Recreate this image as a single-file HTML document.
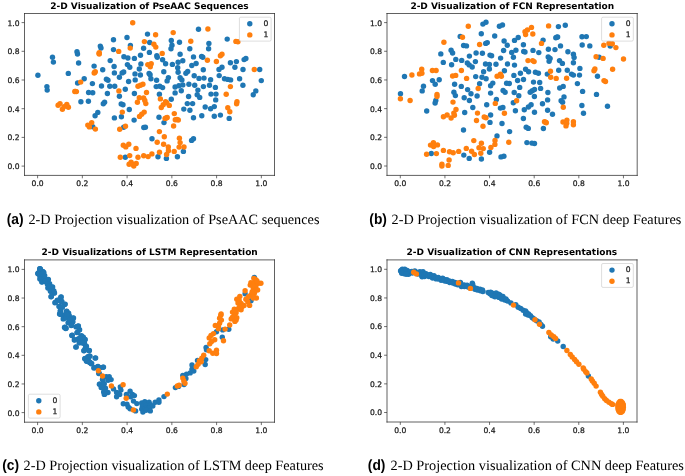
<!DOCTYPE html>
<html lang="en">
<head>
<meta charset="utf-8">
<title>2-D Projection visualizations</title>
<style>
html,body{margin:0;padding:0;background:#fff;}
body{width:685px;height:476px;overflow:hidden;position:relative;}
svg{display:block;position:absolute;left:0;top:0;text-rendering:geometricPrecision;}
.tk{font-family:"DejaVu Sans","Liberation Sans",sans-serif;font-size:7.6px;fill:#1a1a1a;stroke:#1a1a1a;stroke-width:0.25px;}
.tt{font-family:"DejaVu Sans","Liberation Sans",sans-serif;font-size:9.0px;font-weight:bold;fill:#000;}
.cl{font-family:"Liberation Sans",sans-serif;font-weight:bold;font-size:15px;fill:#000;}
.ct{font-family:"Liberation Serif",serif;font-size:14.2px;fill:#000;}
.sp{stroke:#333;stroke-width:0.78;fill:none;stroke-linecap:square;}
.tm{stroke:#333;stroke-width:0.7;}
.b{fill:#1f77b4;}
.o{fill:#ff7f0e;}
</style>
</head>
<body>
<svg width="685" height="476" viewBox="0 0 685 476">
<rect x="0" y="0" width="685" height="476" fill="#fff"/>
<g id="plot-a">
<g id="points-a"><circle class="b" cx="52.5" cy="57.3" r="2.7"/><circle class="b" cx="53.4" cy="62.1" r="2.7"/><circle class="b" cx="77.0" cy="51.8" r="2.7"/><circle class="b" cx="77.5" cy="54.0" r="2.7"/><circle class="b" cx="78.6" cy="63.0" r="2.7"/><circle class="b" cx="100.3" cy="46.1" r="2.7"/><circle class="b" cx="101.0" cy="48.0" r="2.7"/><circle class="b" cx="94.1" cy="66.1" r="2.7"/><circle class="b" cx="147.5" cy="34.1" r="2.7"/><circle class="b" cx="113.5" cy="39.8" r="2.7"/><circle class="b" cx="127.0" cy="37.5" r="2.7"/><circle class="b" cx="149.7" cy="42.5" r="2.7"/><circle class="b" cx="171.3" cy="40.4" r="2.7"/><circle class="b" cx="179.5" cy="42.3" r="2.7"/><circle class="b" cx="130.4" cy="45.5" r="2.7"/><circle class="b" cx="113.5" cy="49.6" r="2.7"/><circle class="b" cx="143.6" cy="48.3" r="2.7"/><circle class="b" cx="149.4" cy="52.4" r="2.7"/><circle class="b" cx="172.0" cy="45.3" r="2.7"/><circle class="b" cx="171.0" cy="48.7" r="2.7"/><circle class="b" cx="189.8" cy="48.7" r="2.7"/><circle class="b" cx="140.5" cy="55.3" r="2.7"/><circle class="b" cx="156.8" cy="55.7" r="2.7"/><circle class="b" cx="157.3" cy="57.2" r="2.7"/><circle class="b" cx="180.1" cy="54.3" r="2.7"/><circle class="b" cx="123.9" cy="56.8" r="2.7"/><circle class="b" cx="127.9" cy="58.0" r="2.7"/><circle class="b" cx="134.4" cy="58.4" r="2.7"/><circle class="b" cx="162.6" cy="59.7" r="2.7"/><circle class="b" cx="110.2" cy="60.6" r="2.7"/><circle class="b" cx="182.8" cy="60.8" r="2.7"/><circle class="b" cx="178.1" cy="62.2" r="2.7"/><circle class="b" cx="165.6" cy="63.8" r="2.7"/><circle class="b" cx="172.4" cy="64.4" r="2.7"/><circle class="b" cx="140.9" cy="63.9" r="2.7"/><circle class="b" cx="127.4" cy="64.6" r="2.7"/><circle class="b" cx="114.1" cy="66.5" r="2.7"/><circle class="b" cx="129.8" cy="67.3" r="2.7"/><circle class="b" cx="177.7" cy="67.7" r="2.7"/><circle class="b" cx="191.8" cy="65.5" r="2.7"/><circle class="b" cx="198.5" cy="29.2" r="2.7"/><circle class="b" cx="227.2" cy="39.1" r="2.7"/><circle class="b" cx="208.9" cy="43.4" r="2.7"/><circle class="b" cx="208.6" cy="48.8" r="2.7"/><circle class="b" cx="193.5" cy="56.9" r="2.7"/><circle class="b" cx="201.6" cy="56.4" r="2.7"/><circle class="b" cx="202.8" cy="57.3" r="2.7"/><circle class="b" cx="230.4" cy="62.7" r="2.7"/><circle class="b" cx="236.4" cy="61.6" r="2.7"/><circle class="b" cx="245.9" cy="58.5" r="2.7"/><circle class="b" cx="244.1" cy="59.6" r="2.7"/><circle class="b" cx="196.1" cy="63.5" r="2.7"/><circle class="b" cx="222.0" cy="67.3" r="2.7"/><circle class="b" cx="234.9" cy="67.3" r="2.7"/><circle class="b" cx="37.9" cy="75.2" r="2.7"/><circle class="b" cx="68.3" cy="73.4" r="2.7"/><circle class="b" cx="102.7" cy="69.8" r="2.7"/><circle class="b" cx="84.2" cy="78.8" r="2.7"/><circle class="b" cx="77.6" cy="83.0" r="2.7"/><circle class="b" cx="92.4" cy="83.6" r="2.7"/><circle class="b" cx="106.4" cy="79.3" r="2.7"/><circle class="b" cx="101.5" cy="86.0" r="2.7"/><circle class="b" cx="46.9" cy="86.6" r="2.7"/><circle class="b" cx="47.2" cy="90.1" r="2.7"/><circle class="b" cx="88.6" cy="92.5" r="2.7"/><circle class="b" cx="92.7" cy="92.8" r="2.7"/><circle class="b" cx="107.4" cy="93.5" r="2.7"/><circle class="b" cx="80.9" cy="101.7" r="2.7"/><circle class="b" cx="88.4" cy="101.3" r="2.7"/><circle class="b" cx="104.6" cy="102.3" r="2.7"/><circle class="b" cx="103.3" cy="103.8" r="2.7"/><circle class="b" cx="97.8" cy="112.4" r="2.7"/><circle class="b" cx="95.1" cy="115.8" r="2.7"/><circle class="b" cx="114.4" cy="72.9" r="2.7"/><circle class="b" cx="122.1" cy="72.9" r="2.7"/><circle class="b" cx="123.7" cy="72.0" r="2.7"/><circle class="b" cx="139.3" cy="69.0" r="2.7"/><circle class="b" cx="135.0" cy="73.9" r="2.7"/><circle class="b" cx="140.4" cy="75.0" r="2.7"/><circle class="b" cx="149.1" cy="73.5" r="2.7"/><circle class="b" cx="150.1" cy="74.7" r="2.7"/><circle class="b" cx="163.8" cy="71.7" r="2.7"/><circle class="b" cx="178.1" cy="72.3" r="2.7"/><circle class="b" cx="187.7" cy="71.4" r="2.7"/><circle class="b" cx="185.9" cy="73.3" r="2.7"/><circle class="b" cx="119.4" cy="77.3" r="2.7"/><circle class="b" cx="108.0" cy="80.3" r="2.7"/><circle class="b" cx="128.6" cy="81.5" r="2.7"/><circle class="b" cx="135.2" cy="79.9" r="2.7"/><circle class="b" cx="150.9" cy="78.7" r="2.7"/><circle class="b" cx="156.6" cy="80.3" r="2.7"/><circle class="b" cx="168.4" cy="77.6" r="2.7"/><circle class="b" cx="167.1" cy="80.9" r="2.7"/><circle class="b" cx="180.1" cy="77.8" r="2.7"/><circle class="b" cx="181.9" cy="79.9" r="2.7"/><circle class="b" cx="188.9" cy="84.2" r="2.7"/><circle class="b" cx="182.8" cy="84.9" r="2.7"/><circle class="b" cx="178.9" cy="85.8" r="2.7"/><circle class="b" cx="175.1" cy="87.0" r="2.7"/><circle class="b" cx="156.2" cy="86.6" r="2.7"/><circle class="b" cx="159.8" cy="86.2" r="2.7"/><circle class="b" cx="162.6" cy="87.6" r="2.7"/><circle class="b" cx="109.8" cy="86.2" r="2.7"/><circle class="b" cx="114.7" cy="86.2" r="2.7"/><circle class="b" cx="125.3" cy="89.3" r="2.7"/><circle class="b" cx="181.3" cy="90.7" r="2.7"/><circle class="b" cx="175.1" cy="92.9" r="2.7"/><circle class="b" cx="134.4" cy="93.5" r="2.7"/><circle class="b" cx="159.4" cy="94.2" r="2.7"/><circle class="b" cx="119.4" cy="96.3" r="2.7"/><circle class="b" cx="188.6" cy="96.5" r="2.7"/><circle class="b" cx="171.3" cy="99.2" r="2.7"/><circle class="b" cx="121.2" cy="103.9" r="2.7"/><circle class="b" cx="123.0" cy="104.8" r="2.7"/><circle class="b" cx="187.3" cy="103.6" r="2.7"/><circle class="b" cx="129.3" cy="109.5" r="2.7"/><circle class="b" cx="183.8" cy="109.1" r="2.7"/><circle class="b" cx="189.9" cy="110.3" r="2.7"/><circle class="b" cx="121.4" cy="116.7" r="2.7"/><circle class="b" cx="114.4" cy="117.9" r="2.7"/><circle class="b" cx="159.0" cy="117.3" r="2.7"/><circle class="b" cx="134.1" cy="120.1" r="2.7"/><circle class="b" cx="203.3" cy="69.8" r="2.7"/><circle class="b" cx="219.0" cy="69.5" r="2.7"/><circle class="b" cx="243.0" cy="69.5" r="2.7"/><circle class="b" cx="259.7" cy="69.5" r="2.7"/><circle class="b" cx="194.2" cy="75.7" r="2.7"/><circle class="b" cx="199.0" cy="78.4" r="2.7"/><circle class="b" cx="204.0" cy="78.1" r="2.7"/><circle class="b" cx="210.6" cy="79.7" r="2.7"/><circle class="b" cx="219.2" cy="75.6" r="2.7"/><circle class="b" cx="224.5" cy="78.8" r="2.7"/><circle class="b" cx="227.8" cy="79.4" r="2.7"/><circle class="b" cx="230.6" cy="79.9" r="2.7"/><circle class="b" cx="239.6" cy="78.7" r="2.7"/><circle class="b" cx="261.3" cy="80.6" r="2.7"/><circle class="b" cx="194.7" cy="85.2" r="2.7"/><circle class="b" cx="203.4" cy="86.6" r="2.7"/><circle class="b" cx="209.5" cy="85.2" r="2.7"/><circle class="b" cx="215.4" cy="87.4" r="2.7"/><circle class="b" cx="242.9" cy="85.2" r="2.7"/><circle class="b" cx="197.9" cy="90.1" r="2.7"/><circle class="b" cx="197.2" cy="94.7" r="2.7"/><circle class="b" cx="199.7" cy="97.4" r="2.7"/><circle class="b" cx="211.0" cy="94.1" r="2.7"/><circle class="b" cx="216.0" cy="94.1" r="2.7"/><circle class="b" cx="255.8" cy="90.9" r="2.7"/><circle class="b" cx="253.3" cy="94.7" r="2.7"/><circle class="b" cx="215.7" cy="99.9" r="2.7"/><circle class="b" cx="192.6" cy="103.6" r="2.7"/><circle class="b" cx="205.2" cy="107.0" r="2.7"/><circle class="b" cx="214.3" cy="106.6" r="2.7"/><circle class="b" cx="210.6" cy="108.7" r="2.7"/><circle class="b" cx="201.8" cy="115.8" r="2.7"/><circle class="b" cx="214.3" cy="116.2" r="2.7"/><circle class="b" cx="220.4" cy="115.1" r="2.7"/><circle class="b" cx="229.2" cy="118.4" r="2.7"/><circle class="b" cx="193.5" cy="117.7" r="2.7"/><circle class="b" cx="92.7" cy="126.7" r="2.7"/><circle class="b" cx="164.0" cy="122.6" r="2.7"/><circle class="b" cx="123.7" cy="127.2" r="2.7"/><circle class="b" cx="143.8" cy="127.5" r="2.7"/><circle class="b" cx="145.4" cy="127.2" r="2.7"/><circle class="b" cx="152.0" cy="138.8" r="2.7"/><circle class="b" cx="183.4" cy="151.4" r="2.7"/><circle class="b" cx="125.3" cy="157.3" r="2.7"/><circle class="b" cx="158.0" cy="156.7" r="2.7"/><circle class="b" cx="166.4" cy="158.4" r="2.7"/><circle class="b" cx="177.4" cy="156.7" r="2.7"/><circle class="b" cx="193.5" cy="138.8" r="2.7"/><circle class="b" cx="191.6" cy="140.4" r="2.7"/><circle class="o" cx="99.2" cy="53.4" r="2.7"/><circle class="o" cx="132.7" cy="22.7" r="2.7"/><circle class="o" cx="155.6" cy="34.7" r="2.7"/><circle class="o" cx="173.2" cy="32.6" r="2.7"/><circle class="o" cx="144.4" cy="41.6" r="2.7"/><circle class="o" cx="153.9" cy="44.2" r="2.7"/><circle class="o" cx="155.8" cy="47.1" r="2.7"/><circle class="o" cx="190.8" cy="41.2" r="2.7"/><circle class="o" cx="130.2" cy="48.1" r="2.7"/><circle class="o" cx="118.7" cy="51.4" r="2.7"/><circle class="o" cx="162.2" cy="53.4" r="2.7"/><circle class="o" cx="147.8" cy="64.6" r="2.7"/><circle class="o" cx="151.2" cy="63.8" r="2.7"/><circle class="o" cx="150.3" cy="66.7" r="2.7"/><circle class="o" cx="207.9" cy="29.0" r="2.7"/><circle class="o" cx="235.9" cy="41.4" r="2.7"/><circle class="o" cx="237.9" cy="41.7" r="2.7"/><circle class="o" cx="222.0" cy="54.2" r="2.7"/><circle class="o" cx="220.4" cy="55.7" r="2.7"/><circle class="o" cx="207.4" cy="60.2" r="2.7"/><circle class="o" cx="216.4" cy="61.5" r="2.7"/><circle class="o" cx="94.6" cy="72.4" r="2.7"/><circle class="o" cx="80.7" cy="82.1" r="2.7"/><circle class="o" cx="75.6" cy="91.4" r="2.7"/><circle class="o" cx="60.0" cy="103.6" r="2.7"/><circle class="o" cx="58.1" cy="105.2" r="2.7"/><circle class="o" cx="66.8" cy="104.5" r="2.7"/><circle class="o" cx="64.1" cy="106.6" r="2.7"/><circle class="o" cx="68.4" cy="107.2" r="2.7"/><circle class="o" cx="62.4" cy="109.2" r="2.7"/><circle class="o" cx="142.9" cy="84.3" r="2.7"/><circle class="o" cx="140.5" cy="85.2" r="2.7"/><circle class="o" cx="138.0" cy="86.2" r="2.7"/><circle class="o" cx="118.9" cy="90.9" r="2.7"/><circle class="o" cx="146.5" cy="92.5" r="2.7"/><circle class="o" cx="139.3" cy="97.8" r="2.7"/><circle class="o" cx="143.6" cy="98.0" r="2.7"/><circle class="o" cx="144.8" cy="100.5" r="2.7"/><circle class="o" cx="137.4" cy="102.3" r="2.7"/><circle class="o" cx="145.8" cy="103.6" r="2.7"/><circle class="o" cx="160.4" cy="98.9" r="2.7"/><circle class="o" cx="165.6" cy="101.7" r="2.7"/><circle class="o" cx="163.2" cy="104.8" r="2.7"/><circle class="o" cx="161.3" cy="107.5" r="2.7"/><circle class="o" cx="169.3" cy="105.4" r="2.7"/><circle class="o" cx="122.3" cy="112.1" r="2.7"/><circle class="o" cx="144.2" cy="112.1" r="2.7"/><circle class="o" cx="141.7" cy="114.3" r="2.7"/><circle class="o" cx="139.5" cy="116.4" r="2.7"/><circle class="o" cx="174.3" cy="113.6" r="2.7"/><circle class="o" cx="166.1" cy="118.0" r="2.7"/><circle class="o" cx="176.9" cy="119.5" r="2.7"/><circle class="o" cx="254.3" cy="69.5" r="2.7"/><circle class="o" cx="230.4" cy="86.6" r="2.7"/><circle class="o" cx="226.2" cy="94.2" r="2.7"/><circle class="o" cx="237.0" cy="101.7" r="2.7"/><circle class="o" cx="236.6" cy="103.8" r="2.7"/><circle class="o" cx="227.8" cy="107.8" r="2.7"/><circle class="o" cx="229.8" cy="111.8" r="2.7"/><circle class="o" cx="91.7" cy="122.6" r="2.7"/><circle class="o" cx="87.8" cy="125.1" r="2.7"/><circle class="o" cx="89.4" cy="126.9" r="2.7"/><circle class="o" cx="95.4" cy="129.1" r="2.7"/><circle class="o" cx="125.5" cy="126.2" r="2.7"/><circle class="o" cx="119.7" cy="129.2" r="2.7"/><circle class="o" cx="173.6" cy="126.0" r="2.7"/><circle class="o" cx="159.4" cy="131.6" r="2.7"/><circle class="o" cx="164.3" cy="136.8" r="2.7"/><circle class="o" cx="179.4" cy="138.2" r="2.7"/><circle class="o" cx="157.2" cy="142.2" r="2.7"/><circle class="o" cx="180.1" cy="142.6" r="2.7"/><circle class="o" cx="163.6" cy="144.3" r="2.7"/><circle class="o" cx="128.8" cy="144.3" r="2.7"/><circle class="o" cx="123.3" cy="145.3" r="2.7"/><circle class="o" cx="125.8" cy="146.9" r="2.7"/><circle class="o" cx="136.0" cy="148.4" r="2.7"/><circle class="o" cx="168.3" cy="146.9" r="2.7"/><circle class="o" cx="179.1" cy="147.1" r="2.7"/><circle class="o" cx="184.0" cy="147.0" r="2.7"/><circle class="o" cx="168.4" cy="150.8" r="2.7"/><circle class="o" cx="174.2" cy="151.4" r="2.7"/><circle class="o" cx="159.5" cy="152.2" r="2.7"/><circle class="o" cx="151.9" cy="153.9" r="2.7"/><circle class="o" cx="166.6" cy="154.5" r="2.7"/><circle class="o" cx="129.7" cy="155.6" r="2.7"/><circle class="o" cx="120.3" cy="157.3" r="2.7"/><circle class="o" cx="138.0" cy="157.3" r="2.7"/><circle class="o" cx="143.7" cy="155.7" r="2.7"/><circle class="o" cx="148.1" cy="156.6" r="2.7"/><circle class="o" cx="131.1" cy="162.2" r="2.7"/><circle class="o" cx="129.1" cy="164.3" r="2.7"/><circle class="o" cx="136.2" cy="163.4" r="2.7"/><circle class="o" cx="133.8" cy="166.1" r="2.7"/><circle class="o" cx="132.5" cy="164.3" r="2.7"/><circle class="o" cx="99.2" cy="52.7" r="2.7"/><circle class="o" cx="99.2" cy="54.1" r="2.7"/><circle class="o" cx="95.3" cy="71.8" r="2.7"/><circle class="o" cx="94.2" cy="73.0" r="2.7"/><circle class="o" cx="74.8" cy="91.5" r="2.7"/><circle class="o" cx="76.4" cy="91.6" r="2.7"/><circle class="o" cx="178.3" cy="120.0" r="2.7"/><circle class="o" cx="175.3" cy="119.7" r="2.7"/><circle class="o" cx="165.1" cy="118.4" r="2.7"/><circle class="o" cx="167.2" cy="117.5" r="2.7"/><circle class="o" cx="166.7" cy="102.7" r="2.7"/></g>
<path class="sp" d="M24.5 13.5H274.5"/><path class="sp" d="M24.5 175.4H274.5"/><path class="sp" d="M24.5 13.5V175.4"/><path class="sp" d="M274.5 13.5V175.4"/>
<line class="tm" x1="37.60" y1="175.4" x2="37.60" y2="178.3"/><text class="tk" x="37.60" y="186.4" text-anchor="middle">0.0</text><line class="tm" x1="21.6" y1="166.10" x2="24.5" y2="166.10"/><text class="tk" x="19.6" y="169.00" text-anchor="end">0.0</text>
<line class="tm" x1="82.35" y1="175.4" x2="82.35" y2="178.3"/><text class="tk" x="82.35" y="186.4" text-anchor="middle">0.2</text><line class="tm" x1="21.6" y1="137.40" x2="24.5" y2="137.40"/><text class="tk" x="19.6" y="140.30" text-anchor="end">0.2</text>
<line class="tm" x1="127.10" y1="175.4" x2="127.10" y2="178.3"/><text class="tk" x="127.10" y="186.4" text-anchor="middle">0.4</text><line class="tm" x1="21.6" y1="108.70" x2="24.5" y2="108.70"/><text class="tk" x="19.6" y="111.60" text-anchor="end">0.4</text>
<line class="tm" x1="171.85" y1="175.4" x2="171.85" y2="178.3"/><text class="tk" x="171.85" y="186.4" text-anchor="middle">0.6</text><line class="tm" x1="21.6" y1="80.00" x2="24.5" y2="80.00"/><text class="tk" x="19.6" y="82.90" text-anchor="end">0.6</text>
<line class="tm" x1="216.60" y1="175.4" x2="216.60" y2="178.3"/><text class="tk" x="216.60" y="186.4" text-anchor="middle">0.8</text><line class="tm" x1="21.6" y1="51.30" x2="24.5" y2="51.30"/><text class="tk" x="19.6" y="54.20" text-anchor="end">0.8</text>
<line class="tm" x1="261.35" y1="175.4" x2="261.35" y2="178.3"/><text class="tk" x="261.35" y="186.4" text-anchor="middle">1.0</text><line class="tm" x1="21.6" y1="22.60" x2="24.5" y2="22.60"/><text class="tk" x="19.6" y="25.50" text-anchor="end">1.0</text>
<text class="tt" x="149.5" y="8.7" text-anchor="middle">2-D Visualization of PseAAC Sequences</text>
<rect x="239.4" y="17.2" width="31.7" height="23.9" rx="1.4" ry="1.4" fill="#fff" fill-opacity="0.8" stroke="#ccc" stroke-opacity="0.9" stroke-width="0.75"/><circle class="b" cx="249.8" cy="23.8" r="2.7"/><text class="tk" x="263.5" y="25.8">0</text><circle class="o" cx="249.8" cy="34.9" r="2.7"/><text class="tk" x="263.5" y="37.0">1</text>
<text class="cl" transform="translate(6.7,223.8) scale(0.92,1)">(a)</text><text class="ct" transform="translate(28.4,223.8) scale(1.005,1)">2-D Projection visualization of PseAAC sequences</text>
</g>
<g id="plot-b">
<g id="points-b"><circle class="b" cx="460.2" cy="36.4" r="2.7"/><circle class="b" cx="463.6" cy="45.5" r="2.7"/><circle class="b" cx="466.5" cy="45.9" r="2.7"/><circle class="b" cx="451.1" cy="50.2" r="2.7"/><circle class="b" cx="452.6" cy="53.0" r="2.7"/><circle class="b" cx="440.8" cy="53.9" r="2.7"/><circle class="b" cx="469.4" cy="56.1" r="2.7"/><circle class="b" cx="455.8" cy="59.4" r="2.7"/><circle class="b" cx="461.7" cy="60.4" r="2.7"/><circle class="b" cx="443.3" cy="62.4" r="2.7"/><circle class="b" cx="451.6" cy="64.8" r="2.7"/><circle class="b" cx="467.3" cy="63.0" r="2.7"/><circle class="b" cx="469.2" cy="64.9" r="2.7"/><circle class="b" cx="486.0" cy="22.3" r="2.7"/><circle class="b" cx="482.9" cy="24.1" r="2.7"/><circle class="b" cx="502.5" cy="25.0" r="2.7"/><circle class="b" cx="499.4" cy="26.3" r="2.7"/><circle class="b" cx="481.3" cy="33.7" r="2.7"/><circle class="b" cx="494.7" cy="36.0" r="2.7"/><circle class="b" cx="518.2" cy="37.5" r="2.7"/><circle class="b" cx="514.5" cy="40.4" r="2.7"/><circle class="b" cx="543.1" cy="40.1" r="2.7"/><circle class="b" cx="504.1" cy="41.0" r="2.7"/><circle class="b" cx="485.7" cy="43.4" r="2.7"/><circle class="b" cx="487.3" cy="42.6" r="2.7"/><circle class="b" cx="507.3" cy="45.3" r="2.7"/><circle class="b" cx="523.4" cy="44.8" r="2.7"/><circle class="b" cx="548.4" cy="49.3" r="2.7"/><circle class="b" cx="503.6" cy="50.5" r="2.7"/><circle class="b" cx="515.9" cy="50.2" r="2.7"/><circle class="b" cx="511.7" cy="52.4" r="2.7"/><circle class="b" cx="533.0" cy="50.4" r="2.7"/><circle class="b" cx="523.7" cy="51.4" r="2.7"/><circle class="b" cx="525.0" cy="52.0" r="2.7"/><circle class="b" cx="538.8" cy="52.6" r="2.7"/><circle class="b" cx="476.1" cy="53.0" r="2.7"/><circle class="b" cx="482.4" cy="53.2" r="2.7"/><circle class="b" cx="490.0" cy="55.1" r="2.7"/><circle class="b" cx="491.6" cy="55.7" r="2.7"/><circle class="b" cx="513.4" cy="57.3" r="2.7"/><circle class="b" cx="548.2" cy="56.9" r="2.7"/><circle class="b" cx="550.1" cy="58.4" r="2.7"/><circle class="b" cx="549.1" cy="61.2" r="2.7"/><circle class="b" cx="500.6" cy="58.1" r="2.7"/><circle class="b" cx="475.4" cy="61.6" r="2.7"/><circle class="b" cx="485.5" cy="64.0" r="2.7"/><circle class="b" cx="489.4" cy="64.5" r="2.7"/><circle class="b" cx="496.0" cy="64.2" r="2.7"/><circle class="b" cx="507.5" cy="64.0" r="2.7"/><circle class="b" cx="514.5" cy="65.1" r="2.7"/><circle class="b" cx="472.2" cy="67.0" r="2.7"/><circle class="b" cx="558.4" cy="26.6" r="2.7"/><circle class="b" cx="565.3" cy="25.3" r="2.7"/><circle class="b" cx="556.8" cy="37.3" r="2.7"/><circle class="b" cx="582.0" cy="36.7" r="2.7"/><circle class="b" cx="586.3" cy="36.6" r="2.7"/><circle class="b" cx="560.5" cy="45.9" r="2.7"/><circle class="b" cx="582.2" cy="45.0" r="2.7"/><circle class="b" cx="589.8" cy="45.9" r="2.7"/><circle class="b" cx="610.2" cy="46.1" r="2.7"/><circle class="b" cx="555.0" cy="49.6" r="2.7"/><circle class="b" cx="567.9" cy="51.8" r="2.7"/><circle class="b" cx="573.4" cy="54.2" r="2.7"/><circle class="b" cx="574.1" cy="57.5" r="2.7"/><circle class="b" cx="599.1" cy="57.2" r="2.7"/><circle class="b" cx="559.5" cy="60.6" r="2.7"/><circle class="b" cx="562.4" cy="63.4" r="2.7"/><circle class="b" cx="573.4" cy="62.7" r="2.7"/><circle class="b" cx="404.5" cy="76.5" r="2.7"/><circle class="b" cx="432.5" cy="80.6" r="2.7"/><circle class="b" cx="435.2" cy="84.3" r="2.7"/><circle class="b" cx="439.2" cy="79.8" r="2.7"/><circle class="b" cx="454.6" cy="84.3" r="2.7"/><circle class="b" cx="461.3" cy="86.4" r="2.7"/><circle class="b" cx="423.5" cy="86.2" r="2.7"/><circle class="b" cx="422.2" cy="90.9" r="2.7"/><circle class="b" cx="467.6" cy="89.6" r="2.7"/><circle class="b" cx="453.9" cy="92.3" r="2.7"/><circle class="b" cx="455.4" cy="95.6" r="2.7"/><circle class="b" cx="400.5" cy="93.8" r="2.7"/><circle class="b" cx="464.2" cy="97.8" r="2.7"/><circle class="b" cx="435.8" cy="100.5" r="2.7"/><circle class="b" cx="435.1" cy="103.0" r="2.7"/><circle class="b" cx="469.4" cy="100.5" r="2.7"/><circle class="b" cx="426.7" cy="111.0" r="2.7"/><circle class="b" cx="464.7" cy="112.5" r="2.7"/><circle class="b" cx="489.4" cy="69.0" r="2.7"/><circle class="b" cx="483.6" cy="71.7" r="2.7"/><circle class="b" cx="504.4" cy="70.7" r="2.7"/><circle class="b" cx="525.6" cy="69.2" r="2.7"/><circle class="b" cx="528.6" cy="71.7" r="2.7"/><circle class="b" cx="535.4" cy="72.3" r="2.7"/><circle class="b" cx="538.4" cy="73.2" r="2.7"/><circle class="b" cx="547.3" cy="74.1" r="2.7"/><circle class="b" cx="475.7" cy="76.6" r="2.7"/><circle class="b" cx="482.0" cy="77.2" r="2.7"/><circle class="b" cx="486.1" cy="78.7" r="2.7"/><circle class="b" cx="513.9" cy="75.4" r="2.7"/><circle class="b" cx="520.4" cy="73.2" r="2.7"/><circle class="b" cx="517.6" cy="80.5" r="2.7"/><circle class="b" cx="523.5" cy="79.5" r="2.7"/><circle class="b" cx="533.5" cy="82.1" r="2.7"/><circle class="b" cx="539.7" cy="82.5" r="2.7"/><circle class="b" cx="479.6" cy="83.7" r="2.7"/><circle class="b" cx="492.8" cy="83.1" r="2.7"/><circle class="b" cx="490.6" cy="85.8" r="2.7"/><circle class="b" cx="506.6" cy="83.3" r="2.7"/><circle class="b" cx="509.3" cy="83.5" r="2.7"/><circle class="b" cx="519.7" cy="87.4" r="2.7"/><circle class="b" cx="540.6" cy="88.4" r="2.7"/><circle class="b" cx="534.5" cy="89.5" r="2.7"/><circle class="b" cx="532.3" cy="90.7" r="2.7"/><circle class="b" cx="530.2" cy="92.2" r="2.7"/><circle class="b" cx="503.1" cy="90.4" r="2.7"/><circle class="b" cx="505.1" cy="92.3" r="2.7"/><circle class="b" cx="490.6" cy="93.1" r="2.7"/><circle class="b" cx="514.2" cy="92.5" r="2.7"/><circle class="b" cx="547.9" cy="92.5" r="2.7"/><circle class="b" cx="471.0" cy="93.8" r="2.7"/><circle class="b" cx="477.1" cy="96.0" r="2.7"/><circle class="b" cx="518.8" cy="95.8" r="2.7"/><circle class="b" cx="534.4" cy="96.5" r="2.7"/><circle class="b" cx="496.4" cy="99.5" r="2.7"/><circle class="b" cx="547.6" cy="99.9" r="2.7"/><circle class="b" cx="513.3" cy="102.7" r="2.7"/><circle class="b" cx="542.5" cy="103.7" r="2.7"/><circle class="b" cx="486.7" cy="104.7" r="2.7"/><circle class="b" cx="531.1" cy="104.8" r="2.7"/><circle class="b" cx="528.4" cy="107.0" r="2.7"/><circle class="b" cx="472.8" cy="107.5" r="2.7"/><circle class="b" cx="500.4" cy="108.1" r="2.7"/><circle class="b" cx="502.9" cy="107.5" r="2.7"/><circle class="b" cx="524.3" cy="109.7" r="2.7"/><circle class="b" cx="515.4" cy="110.7" r="2.7"/><circle class="b" cx="547.6" cy="110.3" r="2.7"/><circle class="b" cx="534.5" cy="112.3" r="2.7"/><circle class="b" cx="490.6" cy="115.0" r="2.7"/><circle class="b" cx="552.5" cy="114.3" r="2.7"/><circle class="b" cx="523.4" cy="118.5" r="2.7"/><circle class="b" cx="558.7" cy="70.2" r="2.7"/><circle class="b" cx="567.3" cy="70.2" r="2.7"/><circle class="b" cx="579.9" cy="68.4" r="2.7"/><circle class="b" cx="571.5" cy="74.1" r="2.7"/><circle class="b" cx="573.4" cy="75.1" r="2.7"/><circle class="b" cx="579.5" cy="75.1" r="2.7"/><circle class="b" cx="597.5" cy="76.2" r="2.7"/><circle class="b" cx="577.4" cy="83.6" r="2.7"/><circle class="b" cx="563.2" cy="86.4" r="2.7"/><circle class="b" cx="559.7" cy="88.0" r="2.7"/><circle class="b" cx="582.6" cy="91.4" r="2.7"/><circle class="b" cx="596.5" cy="94.4" r="2.7"/><circle class="b" cx="564.0" cy="96.9" r="2.7"/><circle class="b" cx="561.1" cy="100.7" r="2.7"/><circle class="b" cx="562.6" cy="102.3" r="2.7"/><circle class="b" cx="581.9" cy="105.5" r="2.7"/><circle class="b" cx="607.5" cy="106.3" r="2.7"/><circle class="b" cx="583.5" cy="113.2" r="2.7"/><circle class="b" cx="463.5" cy="130.0" r="2.7"/><circle class="b" cx="431.3" cy="153.5" r="2.7"/><circle class="b" cx="463.8" cy="155.1" r="2.7"/><circle class="b" cx="469.2" cy="158.4" r="2.7"/><circle class="b" cx="490.0" cy="122.4" r="2.7"/><circle class="b" cx="502.0" cy="123.5" r="2.7"/><circle class="b" cx="526.2" cy="127.3" r="2.7"/><circle class="b" cx="528.3" cy="128.4" r="2.7"/><circle class="b" cx="543.4" cy="128.5" r="2.7"/><circle class="b" cx="509.6" cy="131.6" r="2.7"/><circle class="b" cx="497.0" cy="135.9" r="2.7"/><circle class="b" cx="526.9" cy="142.6" r="2.7"/><circle class="b" cx="531.9" cy="143.1" r="2.7"/><circle class="b" cx="534.5" cy="143.5" r="2.7"/><circle class="b" cx="489.6" cy="152.3" r="2.7"/><circle class="b" cx="501.0" cy="156.9" r="2.7"/><circle class="b" cx="503.9" cy="156.3" r="2.7"/><circle class="b" cx="481.4" cy="159.0" r="2.7"/><circle class="b" cx="555.8" cy="37.7" r="2.7"/><circle class="b" cx="557.6" cy="37.0" r="2.7"/><circle class="o" cx="468.3" cy="26.3" r="2.7"/><circle class="o" cx="462.5" cy="37.2" r="2.7"/><circle class="o" cx="443.9" cy="42.2" r="2.7"/><circle class="o" cx="548.6" cy="25.9" r="2.7"/><circle class="o" cx="531.5" cy="27.4" r="2.7"/><circle class="o" cx="527.4" cy="29.9" r="2.7"/><circle class="o" cx="525.0" cy="31.8" r="2.7"/><circle class="o" cx="525.6" cy="34.6" r="2.7"/><circle class="o" cx="532.8" cy="34.0" r="2.7"/><circle class="o" cx="541.5" cy="43.4" r="2.7"/><circle class="o" cx="479.6" cy="44.5" r="2.7"/><circle class="o" cx="528.0" cy="60.6" r="2.7"/><circle class="o" cx="532.7" cy="60.6" r="2.7"/><circle class="o" cx="534.1" cy="61.6" r="2.7"/><circle class="o" cx="603.8" cy="45.3" r="2.7"/><circle class="o" cx="609.0" cy="43.2" r="2.7"/><circle class="o" cx="612.3" cy="43.8" r="2.7"/><circle class="o" cx="615.9" cy="47.6" r="2.7"/><circle class="o" cx="596.1" cy="56.7" r="2.7"/><circle class="o" cx="603.1" cy="58.4" r="2.7"/><circle class="o" cx="623.5" cy="59.0" r="2.7"/><circle class="o" cx="421.7" cy="69.2" r="2.7"/><circle class="o" cx="419.5" cy="73.9" r="2.7"/><circle class="o" cx="421.9" cy="73.2" r="2.7"/><circle class="o" cx="432.4" cy="70.5" r="2.7"/><circle class="o" cx="436.1" cy="70.5" r="2.7"/><circle class="o" cx="461.4" cy="70.5" r="2.7"/><circle class="o" cx="411.9" cy="75.0" r="2.7"/><circle class="o" cx="452.6" cy="76.0" r="2.7"/><circle class="o" cx="455.7" cy="75.4" r="2.7"/><circle class="o" cx="466.6" cy="78.4" r="2.7"/><circle class="o" cx="400.4" cy="98.7" r="2.7"/><circle class="o" cx="410.1" cy="100.5" r="2.7"/><circle class="o" cx="437.0" cy="94.4" r="2.7"/><circle class="o" cx="437.0" cy="96.5" r="2.7"/><circle class="o" cx="453.0" cy="102.1" r="2.7"/><circle class="o" cx="456.0" cy="109.5" r="2.7"/><circle class="o" cx="453.8" cy="113.1" r="2.7"/><circle class="o" cx="454.4" cy="115.2" r="2.7"/><circle class="o" cx="447.1" cy="115.0" r="2.7"/><circle class="o" cx="443.4" cy="116.7" r="2.7"/><circle class="o" cx="451.1" cy="118.0" r="2.7"/><circle class="o" cx="550.5" cy="71.3" r="2.7"/><circle class="o" cx="550.7" cy="77.2" r="2.7"/><circle class="o" cx="500.4" cy="74.1" r="2.7"/><circle class="o" cx="497.1" cy="76.3" r="2.7"/><circle class="o" cx="501.4" cy="76.3" r="2.7"/><circle class="o" cx="478.2" cy="88.5" r="2.7"/><circle class="o" cx="516.6" cy="100.7" r="2.7"/><circle class="o" cx="495.3" cy="103.4" r="2.7"/><circle class="o" cx="477.5" cy="113.1" r="2.7"/><circle class="o" cx="504.4" cy="113.2" r="2.7"/><circle class="o" cx="484.2" cy="117.0" r="2.7"/><circle class="o" cx="486.0" cy="117.7" r="2.7"/><circle class="o" cx="476.5" cy="120.5" r="2.7"/><circle class="o" cx="594.9" cy="69.0" r="2.7"/><circle class="o" cx="594.0" cy="70.7" r="2.7"/><circle class="o" cx="612.6" cy="69.2" r="2.7"/><circle class="o" cx="556.2" cy="78.4" r="2.7"/><circle class="o" cx="566.6" cy="78.2" r="2.7"/><circle class="o" cx="604.0" cy="80.6" r="2.7"/><circle class="o" cx="605.5" cy="81.5" r="2.7"/><circle class="o" cx="563.3" cy="107.2" r="2.7"/><circle class="o" cx="566.9" cy="120.1" r="2.7"/><circle class="o" cx="563.0" cy="122.0" r="2.7"/><circle class="o" cx="573.4" cy="121.7" r="2.7"/><circle class="o" cx="433.4" cy="142.6" r="2.7"/><circle class="o" cx="430.5" cy="145.1" r="2.7"/><circle class="o" cx="433.6" cy="146.5" r="2.7"/><circle class="o" cx="437.5" cy="144.9" r="2.7"/><circle class="o" cx="466.3" cy="148.4" r="2.7"/><circle class="o" cx="443.4" cy="150.4" r="2.7"/><circle class="o" cx="449.5" cy="151.8" r="2.7"/><circle class="o" cx="453.2" cy="152.7" r="2.7"/><circle class="o" cx="458.7" cy="151.4" r="2.7"/><circle class="o" cx="426.6" cy="154.2" r="2.7"/><circle class="o" cx="436.4" cy="153.6" r="2.7"/><circle class="o" cx="449.1" cy="160.0" r="2.7"/><circle class="o" cx="441.9" cy="164.3" r="2.7"/><circle class="o" cx="441.9" cy="166.1" r="2.7"/><circle class="o" cx="448.2" cy="165.4" r="2.7"/><circle class="o" cx="483.0" cy="126.3" r="2.7"/><circle class="o" cx="545.6" cy="122.2" r="2.7"/><circle class="o" cx="473.8" cy="140.6" r="2.7"/><circle class="o" cx="495.0" cy="140.4" r="2.7"/><circle class="o" cx="494.9" cy="144.4" r="2.7"/><circle class="o" cx="508.8" cy="142.2" r="2.7"/><circle class="o" cx="481.4" cy="143.2" r="2.7"/><circle class="o" cx="479.0" cy="147.8" r="2.7"/><circle class="o" cx="483.3" cy="148.6" r="2.7"/><circle class="o" cx="490.9" cy="147.4" r="2.7"/><circle class="o" cx="471.6" cy="151.2" r="2.7"/><circle class="o" cx="474.4" cy="154.5" r="2.7"/><circle class="o" cx="480.8" cy="153.3" r="2.7"/><circle class="o" cx="566.0" cy="125.9" r="2.7"/><circle class="o" cx="573.4" cy="124.7" r="2.7"/><circle class="o" cx="544.5" cy="121.8" r="2.7"/><circle class="o" cx="546.3" cy="122.7" r="2.7"/><circle class="o" cx="566.7" cy="123.3" r="2.7"/></g>
<path class="sp" d="M387.0 13.5H637.2"/><path class="sp" d="M387.0 175.4H637.2"/><path class="sp" d="M387.0 13.5V175.4"/><path class="sp" d="M637.2 13.5V175.4"/>
<line class="tm" x1="400.30" y1="175.4" x2="400.30" y2="178.3"/><text class="tk" x="400.30" y="186.4" text-anchor="middle">0.0</text><line class="tm" x1="384.1" y1="166.00" x2="387.0" y2="166.00"/><text class="tk" x="382.1" y="168.90" text-anchor="end">0.0</text>
<line class="tm" x1="444.93" y1="175.4" x2="444.93" y2="178.3"/><text class="tk" x="444.93" y="186.4" text-anchor="middle">0.2</text><line class="tm" x1="384.1" y1="137.32" x2="387.0" y2="137.32"/><text class="tk" x="382.1" y="140.22" text-anchor="end">0.2</text>
<line class="tm" x1="489.56" y1="175.4" x2="489.56" y2="178.3"/><text class="tk" x="489.56" y="186.4" text-anchor="middle">0.4</text><line class="tm" x1="384.1" y1="108.64" x2="387.0" y2="108.64"/><text class="tk" x="382.1" y="111.54" text-anchor="end">0.4</text>
<line class="tm" x1="534.19" y1="175.4" x2="534.19" y2="178.3"/><text class="tk" x="534.19" y="186.4" text-anchor="middle">0.6</text><line class="tm" x1="384.1" y1="79.96" x2="387.0" y2="79.96"/><text class="tk" x="382.1" y="82.86" text-anchor="end">0.6</text>
<line class="tm" x1="578.82" y1="175.4" x2="578.82" y2="178.3"/><text class="tk" x="578.82" y="186.4" text-anchor="middle">0.8</text><line class="tm" x1="384.1" y1="51.28" x2="387.0" y2="51.28"/><text class="tk" x="382.1" y="54.18" text-anchor="end">0.8</text>
<line class="tm" x1="623.45" y1="175.4" x2="623.45" y2="178.3"/><text class="tk" x="623.45" y="186.4" text-anchor="middle">1.0</text><line class="tm" x1="384.1" y1="22.60" x2="387.0" y2="22.60"/><text class="tk" x="382.1" y="25.50" text-anchor="end">1.0</text>
<text class="tt" x="512.3" y="8.7" text-anchor="middle">2-D Visualization of FCN Representation</text>
<rect x="601.6" y="17.2" width="31.7" height="23.9" rx="1.4" ry="1.4" fill="#fff" fill-opacity="0.8" stroke="#ccc" stroke-opacity="0.9" stroke-width="0.75"/><circle class="b" cx="612.0" cy="23.8" r="2.7"/><text class="tk" x="625.7" y="25.8">0</text><circle class="o" cx="612.0" cy="34.9" r="2.7"/><text class="tk" x="625.7" y="37.0">1</text>
<text class="cl" transform="translate(369.3,223.8) scale(0.92,1)">(b)</text><text class="ct" transform="translate(391.5,223.8) scale(1.005,1)">2-D Projection visualization of FCN deep Features</text>
</g>
<g id="plot-c">
<g id="points-c"><circle class="b" cx="39.9" cy="269.6" r="2.7"/><circle class="b" cx="38.1" cy="273.2" r="2.7"/><circle class="b" cx="42.4" cy="271.6" r="2.7"/><circle class="b" cx="43.0" cy="274.5" r="2.7"/><circle class="b" cx="39.9" cy="275.9" r="2.7"/><circle class="b" cx="39.9" cy="279.0" r="2.7"/><circle class="b" cx="43.6" cy="278.4" r="2.7"/><circle class="b" cx="41.8" cy="282.1" r="2.7"/><circle class="b" cx="46.7" cy="280.9" r="2.7"/><circle class="b" cx="49.1" cy="283.9" r="2.7"/><circle class="b" cx="47.9" cy="288.0" r="2.7"/><circle class="b" cx="52.2" cy="287.2" r="2.7"/><circle class="b" cx="50.4" cy="291.3" r="2.7"/><circle class="b" cx="54.0" cy="293.1" r="2.7"/><circle class="b" cx="51.0" cy="296.8" r="2.7"/><circle class="b" cx="60.8" cy="297.2" r="2.7"/><circle class="b" cx="57.1" cy="300.5" r="2.7"/><circle class="b" cx="54.9" cy="302.7" r="2.7"/><circle class="b" cx="61.4" cy="301.7" r="2.7"/><circle class="b" cx="64.7" cy="304.4" r="2.7"/><circle class="b" cx="59.0" cy="306.4" r="2.7"/><circle class="b" cx="62.0" cy="307.2" r="2.7"/><circle class="b" cx="60.2" cy="310.9" r="2.7"/><circle class="b" cx="66.3" cy="311.5" r="2.7"/><circle class="b" cx="68.1" cy="313.3" r="2.7"/><circle class="b" cx="59.6" cy="313.9" r="2.7"/><circle class="b" cx="60.8" cy="314.6" r="2.7"/><circle class="b" cx="64.5" cy="315.2" r="2.7"/><circle class="b" cx="68.8" cy="315.8" r="2.7"/><circle class="b" cx="63.2" cy="318.9" r="2.7"/><circle class="b" cx="65.7" cy="317.7" r="2.7"/><circle class="b" cx="71.2" cy="319.5" r="2.7"/><circle class="b" cx="72.4" cy="322.0" r="2.7"/><circle class="b" cx="68.1" cy="322.8" r="2.7"/><circle class="b" cx="71.2" cy="325.6" r="2.7"/><circle class="b" cx="64.5" cy="327.5" r="2.7"/><circle class="b" cx="65.7" cy="328.5" r="2.7"/><circle class="b" cx="76.1" cy="326.9" r="2.7"/><circle class="b" cx="79.2" cy="329.9" r="2.7"/><circle class="b" cx="77.0" cy="332.6" r="2.7"/><circle class="b" cx="71.8" cy="335.5" r="2.7"/><circle class="b" cx="81.0" cy="336.1" r="2.7"/><circle class="b" cx="78.0" cy="339.1" r="2.7"/><circle class="b" cx="74.3" cy="340.0" r="2.7"/><circle class="b" cx="84.7" cy="339.8" r="2.7"/><circle class="b" cx="82.9" cy="337.3" r="2.7"/><circle class="b" cx="79.2" cy="342.8" r="2.7"/><circle class="b" cx="84.1" cy="343.4" r="2.7"/><circle class="b" cx="75.8" cy="347.1" r="2.7"/><circle class="b" cx="85.9" cy="346.5" r="2.7"/><circle class="b" cx="83.8" cy="350.8" r="2.7"/><circle class="b" cx="89.0" cy="350.8" r="2.7"/><circle class="b" cx="89.6" cy="356.3" r="2.7"/><circle class="b" cx="84.7" cy="358.8" r="2.7"/><circle class="b" cx="95.1" cy="358.1" r="2.7"/><circle class="b" cx="87.8" cy="360.0" r="2.7"/><circle class="b" cx="89.6" cy="362.4" r="2.7"/><circle class="b" cx="91.2" cy="363.7" r="2.7"/><circle class="b" cx="97.6" cy="366.7" r="2.7"/><circle class="b" cx="93.9" cy="367.9" r="2.7"/><circle class="b" cx="103.1" cy="367.3" r="2.7"/><circle class="b" cx="98.8" cy="373.5" r="2.7"/><circle class="b" cx="106.2" cy="376.6" r="2.7"/><circle class="b" cx="102.5" cy="379.6" r="2.7"/><circle class="b" cx="108.0" cy="380.3" r="2.7"/><circle class="b" cx="99.4" cy="384.3" r="2.7"/><circle class="b" cx="103.7" cy="383.9" r="2.7"/><circle class="b" cx="101.2" cy="387.6" r="2.7"/><circle class="b" cx="105.5" cy="388.2" r="2.7"/><circle class="b" cx="103.7" cy="391.9" r="2.7"/><circle class="b" cx="104.3" cy="394.4" r="2.7"/><circle class="b" cx="108.0" cy="392.5" r="2.7"/><circle class="b" cx="109.2" cy="376.6" r="2.7"/><circle class="b" cx="111.1" cy="379.6" r="2.7"/><circle class="b" cx="113.5" cy="388.9" r="2.7"/><circle class="b" cx="120.3" cy="387.0" r="2.7"/><circle class="b" cx="120.9" cy="390.1" r="2.7"/><circle class="b" cx="116.6" cy="392.5" r="2.7"/><circle class="b" cx="119.7" cy="394.4" r="2.7"/><circle class="b" cx="116.6" cy="396.8" r="2.7"/><circle class="b" cx="130.1" cy="391.3" r="2.7"/><circle class="b" cx="126.4" cy="394.4" r="2.7"/><circle class="b" cx="132.5" cy="394.4" r="2.7"/><circle class="b" cx="134.4" cy="395.6" r="2.7"/><circle class="b" cx="130.7" cy="396.8" r="2.7"/><circle class="b" cx="133.5" cy="401.1" r="2.7"/><circle class="b" cx="123.3" cy="403.8" r="2.7"/><circle class="b" cx="127.0" cy="404.2" r="2.7"/><circle class="b" cx="128.2" cy="407.0" r="2.7"/><circle class="b" cx="130.1" cy="408.8" r="2.7"/><circle class="b" cx="136.8" cy="403.6" r="2.7"/><circle class="b" cx="135.6" cy="410.9" r="2.7"/><circle class="b" cx="141.7" cy="402.9" r="2.7"/><circle class="b" cx="144.8" cy="401.7" r="2.7"/><circle class="b" cx="149.1" cy="402.3" r="2.7"/><circle class="b" cx="142.3" cy="406.0" r="2.7"/><circle class="b" cx="146.0" cy="405.4" r="2.7"/><circle class="b" cx="150.3" cy="404.8" r="2.7"/><circle class="b" cx="141.7" cy="409.1" r="2.7"/><circle class="b" cx="145.4" cy="408.5" r="2.7"/><circle class="b" cx="149.7" cy="407.9" r="2.7"/><circle class="b" cx="152.8" cy="406.0" r="2.7"/><circle class="b" cx="142.9" cy="412.1" r="2.7"/><circle class="b" cx="146.0" cy="410.3" r="2.7"/><circle class="b" cx="150.3" cy="410.9" r="2.7"/><circle class="b" cx="155.2" cy="402.3" r="2.7"/><circle class="b" cx="158.9" cy="399.9" r="2.7"/><circle class="b" cx="158.9" cy="402.3" r="2.7"/><circle class="b" cx="164.0" cy="396.6" r="2.7"/><circle class="b" cx="175.4" cy="387.6" r="2.7"/><circle class="b" cx="178.5" cy="386.4" r="2.7"/><circle class="b" cx="184.0" cy="384.6" r="2.7"/><circle class="b" cx="182.8" cy="375.4" r="2.7"/><circle class="b" cx="186.5" cy="374.1" r="2.7"/><circle class="b" cx="190.2" cy="372.9" r="2.7"/><circle class="b" cx="192.0" cy="369.2" r="2.7"/><circle class="b" cx="185.9" cy="378.4" r="2.7"/><circle class="b" cx="193.8" cy="371.1" r="2.7"/><circle class="b" cx="228.8" cy="329.3" r="2.7"/><circle class="b" cx="222.7" cy="329.9" r="2.7"/><circle class="b" cx="216.5" cy="331.8" r="2.7"/><circle class="b" cx="222.3" cy="337.3" r="2.7"/><circle class="b" cx="206.1" cy="347.4" r="2.7"/><circle class="b" cx="206.5" cy="349.8" r="2.7"/><circle class="b" cx="205.7" cy="359.6" r="2.7"/><circle class="b" cx="197.5" cy="360.4" r="2.7"/><circle class="b" cx="205.2" cy="364.5" r="2.7"/><circle class="b" cx="192.0" cy="364.9" r="2.7"/><circle class="b" cx="254.3" cy="277.4" r="2.7"/><circle class="b" cx="245.1" cy="293.7" r="2.7"/><circle class="b" cx="251.0" cy="300.7" r="2.7"/><circle class="b" cx="39.7" cy="268.8" r="2.7"/><circle class="b" cx="43.4" cy="272.8" r="2.7"/><circle class="b" cx="37.9" cy="273.7" r="2.7"/><circle class="b" cx="44.2" cy="275.9" r="2.7"/><circle class="b" cx="47.9" cy="279.6" r="2.7"/><circle class="b" cx="44.9" cy="281.5" r="2.7"/><circle class="b" cx="47.3" cy="283.9" r="2.7"/><circle class="b" cx="51.6" cy="289.4" r="2.7"/><circle class="b" cx="53.4" cy="291.3" r="2.7"/><circle class="b" cx="48.5" cy="286.4" r="2.7"/><circle class="b" cx="73.0" cy="318.3" r="2.7"/><circle class="b" cx="69.4" cy="320.1" r="2.7"/><circle class="b" cx="66.9" cy="314.6" r="2.7"/><circle class="b" cx="78.0" cy="326.3" r="2.7"/><circle class="b" cx="79.8" cy="338.5" r="2.7"/><circle class="b" cx="81.6" cy="342.8" r="2.7"/><circle class="b" cx="85.3" cy="348.3" r="2.7"/><circle class="b" cx="87.8" cy="356.9" r="2.7"/><circle class="b" cx="86.5" cy="361.2" r="2.7"/><circle class="b" cx="99.4" cy="367.9" r="2.7"/><circle class="b" cx="40.4" cy="269.3" r="2.7"/><circle class="b" cx="38.5" cy="273.0" r="2.7"/><circle class="b" cx="42.8" cy="271.4" r="2.7"/><circle class="b" cx="43.5" cy="274.2" r="2.7"/><circle class="b" cx="40.4" cy="275.7" r="2.7"/><circle class="b" cx="40.4" cy="278.8" r="2.7"/><circle class="b" cx="44.1" cy="278.1" r="2.7"/><circle class="b" cx="42.2" cy="281.8" r="2.7"/><circle class="b" cx="47.1" cy="280.6" r="2.7"/><circle class="b" cx="49.6" cy="283.7" r="2.7"/><circle class="b" cx="48.4" cy="287.7" r="2.7"/><circle class="b" cx="52.6" cy="287.0" r="2.7"/><circle class="b" cx="50.8" cy="291.0" r="2.7"/><circle class="b" cx="54.5" cy="292.9" r="2.7"/><circle class="b" cx="51.4" cy="296.5" r="2.7"/><circle class="b" cx="61.2" cy="296.9" r="2.7"/><circle class="b" cx="57.6" cy="300.2" r="2.7"/><circle class="b" cx="55.4" cy="302.4" r="2.7"/><circle class="b" cx="61.9" cy="301.4" r="2.7"/><circle class="b" cx="65.2" cy="304.1" r="2.7"/><circle class="b" cx="59.4" cy="306.1" r="2.7"/><circle class="b" cx="62.5" cy="307.0" r="2.7"/><circle class="b" cx="60.6" cy="310.6" r="2.7"/><circle class="b" cx="66.8" cy="311.2" r="2.7"/><circle class="b" cx="68.6" cy="313.1" r="2.7"/><circle class="b" cx="60.0" cy="313.7" r="2.7"/><circle class="b" cx="61.2" cy="314.4" r="2.7"/><circle class="b" cx="64.9" cy="315.0" r="2.7"/><circle class="b" cx="69.2" cy="315.6" r="2.7"/><circle class="b" cx="63.7" cy="318.6" r="2.7"/><circle class="b" cx="66.1" cy="317.4" r="2.7"/><circle class="b" cx="71.7" cy="319.3" r="2.7"/><circle class="b" cx="72.9" cy="321.7" r="2.7"/><circle class="b" cx="68.6" cy="322.6" r="2.7"/><circle class="b" cx="71.7" cy="325.4" r="2.7"/><circle class="b" cx="64.9" cy="327.2" r="2.7"/><circle class="b" cx="66.1" cy="328.2" r="2.7"/><circle class="b" cx="76.6" cy="326.6" r="2.7"/><circle class="b" cx="79.6" cy="329.7" r="2.7"/><circle class="b" cx="77.4" cy="332.4" r="2.7"/><circle class="b" cx="72.3" cy="335.2" r="2.7"/><circle class="b" cx="81.5" cy="335.8" r="2.7"/><circle class="b" cx="78.4" cy="338.9" r="2.7"/><circle class="b" cx="74.7" cy="339.8" r="2.7"/><circle class="b" cx="85.2" cy="339.5" r="2.7"/><circle class="b" cx="83.3" cy="337.1" r="2.7"/><circle class="b" cx="79.6" cy="342.6" r="2.7"/><circle class="b" cx="84.5" cy="343.2" r="2.7"/><circle class="b" cx="76.2" cy="346.9" r="2.7"/><circle class="b" cx="86.4" cy="346.2" r="2.7"/><circle class="b" cx="84.3" cy="350.5" r="2.7"/><circle class="b" cx="89.4" cy="350.5" r="2.7"/><circle class="b" cx="90.0" cy="356.1" r="2.7"/><circle class="b" cx="85.2" cy="358.5" r="2.7"/><circle class="b" cx="95.6" cy="357.9" r="2.7"/><circle class="b" cx="88.2" cy="359.7" r="2.7"/><circle class="b" cx="90.0" cy="362.2" r="2.7"/><circle class="b" cx="91.7" cy="363.4" r="2.7"/><circle class="b" cx="98.0" cy="366.5" r="2.7"/><circle class="b" cx="94.3" cy="367.7" r="2.7"/><circle class="b" cx="103.5" cy="367.1" r="2.7"/><circle class="b" cx="99.2" cy="373.3" r="2.7"/><circle class="b" cx="102.9" cy="379.4" r="2.7"/><circle class="b" cx="99.9" cy="384.1" r="2.7"/><circle class="b" cx="104.2" cy="383.7" r="2.7"/><circle class="b" cx="101.7" cy="387.4" r="2.7"/><circle class="b" cx="104.2" cy="391.7" r="2.7"/><circle class="b" cx="104.8" cy="394.1" r="2.7"/><circle class="b" cx="40.1" cy="268.6" r="2.7"/><circle class="b" cx="43.8" cy="272.5" r="2.7"/><circle class="b" cx="38.3" cy="273.5" r="2.7"/><circle class="b" cx="44.7" cy="275.7" r="2.7"/><circle class="b" cx="48.4" cy="279.4" r="2.7"/><circle class="b" cx="45.3" cy="281.2" r="2.7"/><circle class="b" cx="47.8" cy="283.7" r="2.7"/><circle class="b" cx="52.0" cy="289.2" r="2.7"/><circle class="b" cx="53.9" cy="291.0" r="2.7"/><circle class="b" cx="49.0" cy="286.1" r="2.7"/><circle class="b" cx="73.5" cy="318.0" r="2.7"/><circle class="b" cx="69.8" cy="319.9" r="2.7"/><circle class="b" cx="67.4" cy="314.4" r="2.7"/><circle class="b" cx="78.4" cy="326.0" r="2.7"/><circle class="b" cx="80.2" cy="338.3" r="2.7"/><circle class="b" cx="82.1" cy="342.6" r="2.7"/><circle class="b" cx="85.8" cy="348.1" r="2.7"/><circle class="b" cx="88.2" cy="356.7" r="2.7"/><circle class="b" cx="87.0" cy="361.0" r="2.7"/><circle class="b" cx="99.9" cy="367.7" r="2.7"/><circle class="o" cx="98.4" cy="370.7" r="2.7"/><circle class="o" cx="102.5" cy="376.0" r="2.7"/><circle class="o" cx="111.4" cy="385.9" r="2.7"/><circle class="o" cx="123.1" cy="384.8" r="2.7"/><circle class="o" cx="126.2" cy="398.3" r="2.7"/><circle class="o" cx="133.4" cy="409.9" r="2.7"/><circle class="o" cx="167.3" cy="394.1" r="2.7"/><circle class="o" cx="177.3" cy="386.0" r="2.7"/><circle class="o" cx="179.1" cy="385.2" r="2.7"/><circle class="o" cx="182.8" cy="378.1" r="2.7"/><circle class="o" cx="183.8" cy="380.9" r="2.7"/><circle class="o" cx="185.0" cy="383.3" r="2.7"/><circle class="o" cx="220.8" cy="315.2" r="2.7"/><circle class="o" cx="219.6" cy="318.3" r="2.7"/><circle class="o" cx="221.4" cy="320.1" r="2.7"/><circle class="o" cx="219.6" cy="323.2" r="2.7"/><circle class="o" cx="215.3" cy="325.4" r="2.7"/><circle class="o" cx="218.4" cy="326.3" r="2.7"/><circle class="o" cx="218.4" cy="328.7" r="2.7"/><circle class="o" cx="232.5" cy="317.1" r="2.7"/><circle class="o" cx="231.2" cy="318.9" r="2.7"/><circle class="o" cx="234.9" cy="319.5" r="2.7"/><circle class="o" cx="236.1" cy="320.1" r="2.7"/><circle class="o" cx="234.9" cy="321.4" r="2.7"/><circle class="o" cx="234.3" cy="315.8" r="2.7"/><circle class="o" cx="236.8" cy="317.7" r="2.7"/><circle class="o" cx="229.7" cy="325.0" r="2.7"/><circle class="o" cx="225.1" cy="329.1" r="2.7"/><circle class="o" cx="213.5" cy="333.6" r="2.7"/><circle class="o" cx="211.0" cy="335.5" r="2.7"/><circle class="o" cx="209.2" cy="337.9" r="2.7"/><circle class="o" cx="214.7" cy="339.8" r="2.7"/><circle class="o" cx="211.6" cy="341.6" r="2.7"/><circle class="o" cx="209.8" cy="343.8" r="2.7"/><circle class="o" cx="223.5" cy="340.7" r="2.7"/><circle class="o" cx="209.2" cy="350.8" r="2.7"/><circle class="o" cx="216.5" cy="350.2" r="2.7"/><circle class="o" cx="212.8" cy="353.2" r="2.7"/><circle class="o" cx="216.5" cy="353.5" r="2.7"/><circle class="o" cx="203.7" cy="355.3" r="2.7"/><circle class="o" cx="201.8" cy="358.1" r="2.7"/><circle class="o" cx="199.4" cy="360.6" r="2.7"/><circle class="o" cx="201.2" cy="361.8" r="2.7"/><circle class="o" cx="198.1" cy="364.3" r="2.7"/><circle class="o" cx="196.3" cy="366.7" r="2.7"/><circle class="o" cx="253.9" cy="278.4" r="2.7"/><circle class="o" cx="255.8" cy="279.6" r="2.7"/><circle class="o" cx="250.9" cy="282.7" r="2.7"/><circle class="o" cx="254.5" cy="282.7" r="2.7"/><circle class="o" cx="258.2" cy="283.3" r="2.7"/><circle class="o" cx="260.9" cy="283.3" r="2.7"/><circle class="o" cx="250.2" cy="285.1" r="2.7"/><circle class="o" cx="255.8" cy="286.4" r="2.7"/><circle class="o" cx="257.6" cy="290.0" r="2.7"/><circle class="o" cx="253.3" cy="288.8" r="2.7"/><circle class="o" cx="245.1" cy="290.7" r="2.7"/><circle class="o" cx="254.5" cy="293.1" r="2.7"/><circle class="o" cx="250.9" cy="294.9" r="2.7"/><circle class="o" cx="248.4" cy="296.8" r="2.7"/><circle class="o" cx="253.3" cy="296.2" r="2.7"/><circle class="o" cx="256.4" cy="298.0" r="2.7"/><circle class="o" cx="239.8" cy="296.4" r="2.7"/><circle class="o" cx="236.8" cy="299.2" r="2.7"/><circle class="o" cx="238.0" cy="302.9" r="2.7"/><circle class="o" cx="241.1" cy="303.5" r="2.7"/><circle class="o" cx="244.1" cy="305.4" r="2.7"/><circle class="o" cx="249.6" cy="305.4" r="2.7"/><circle class="o" cx="247.8" cy="301.7" r="2.7"/><circle class="o" cx="234.3" cy="309.1" r="2.7"/><circle class="o" cx="238.0" cy="309.1" r="2.7"/><circle class="o" cx="241.1" cy="309.7" r="2.7"/><circle class="o" cx="232.5" cy="312.1" r="2.7"/><circle class="o" cx="236.1" cy="312.7" r="2.7"/><circle class="o" cx="239.2" cy="307.2" r="2.7"/><circle class="o" cx="221.1" cy="313.9" r="2.7"/><circle class="o" cx="252.7" cy="285.8" r="2.7"/><circle class="o" cx="257.0" cy="280.9" r="2.7"/><circle class="o" cx="252.1" cy="291.9" r="2.7"/><circle class="o" cx="253.3" cy="298.0" r="2.7"/><circle class="o" cx="245.9" cy="299.2" r="2.7"/><circle class="o" cx="239.2" cy="300.5" r="2.7"/><circle class="o" cx="242.3" cy="306.6" r="2.7"/><circle class="o" cx="235.5" cy="310.9" r="2.7"/></g>
<path class="sp" d="M24.5 259.9H274.5"/><path class="sp" d="M24.5 422.2H274.5"/><path class="sp" d="M24.5 259.9V422.2"/><path class="sp" d="M274.5 259.9V422.2"/>
<line class="tm" x1="37.60" y1="422.2" x2="37.60" y2="425.1"/><text class="tk" x="37.60" y="432.8" text-anchor="middle">0.0</text><line class="tm" x1="21.6" y1="412.60" x2="24.5" y2="412.60"/><text class="tk" x="19.6" y="415.50" text-anchor="end">0.0</text>
<line class="tm" x1="82.35" y1="422.2" x2="82.35" y2="425.1"/><text class="tk" x="82.35" y="432.8" text-anchor="middle">0.2</text><line class="tm" x1="21.6" y1="383.96" x2="24.5" y2="383.96"/><text class="tk" x="19.6" y="386.86" text-anchor="end">0.2</text>
<line class="tm" x1="127.10" y1="422.2" x2="127.10" y2="425.1"/><text class="tk" x="127.10" y="432.8" text-anchor="middle">0.4</text><line class="tm" x1="21.6" y1="355.32" x2="24.5" y2="355.32"/><text class="tk" x="19.6" y="358.22" text-anchor="end">0.4</text>
<line class="tm" x1="171.85" y1="422.2" x2="171.85" y2="425.1"/><text class="tk" x="171.85" y="432.8" text-anchor="middle">0.6</text><line class="tm" x1="21.6" y1="326.68" x2="24.5" y2="326.68"/><text class="tk" x="19.6" y="329.58" text-anchor="end">0.6</text>
<line class="tm" x1="216.60" y1="422.2" x2="216.60" y2="425.1"/><text class="tk" x="216.60" y="432.8" text-anchor="middle">0.8</text><line class="tm" x1="21.6" y1="298.04" x2="24.5" y2="298.04"/><text class="tk" x="19.6" y="300.94" text-anchor="end">0.8</text>
<line class="tm" x1="261.35" y1="422.2" x2="261.35" y2="425.1"/><text class="tk" x="261.35" y="432.8" text-anchor="middle">1.0</text><line class="tm" x1="21.6" y1="269.40" x2="24.5" y2="269.40"/><text class="tk" x="19.6" y="272.30" text-anchor="end">1.0</text>
<text class="tt" x="149.65" y="255.2" text-anchor="middle">2-D Visualizations of LSTM Representation</text>
<rect x="28.4" y="394.2" width="31.7" height="23.9" rx="1.4" ry="1.4" fill="#fff" fill-opacity="0.8" stroke="#ccc" stroke-opacity="0.9" stroke-width="0.75"/><circle class="b" cx="38.8" cy="400.8" r="2.7"/><text class="tk" x="52.5" y="402.8">0</text><circle class="o" cx="38.8" cy="411.9" r="2.7"/><text class="tk" x="52.5" y="414.0">1</text>
<text class="cl" transform="translate(2.2,470.4) scale(0.92,1)">(c)</text><text class="ct" transform="translate(23.5,470.4) scale(1.005,1)">2-D Projection visualization of LSTM deep Features</text>
</g>
<g id="plot-d">
<g id="points-d"><circle class="b" cx="401.1" cy="270.4" r="2.7"/><circle class="b" cx="402.3" cy="272.3" r="2.7"/><circle class="b" cx="403.6" cy="269.6" r="2.7"/><circle class="b" cx="405.4" cy="272.9" r="2.7"/><circle class="b" cx="407.2" cy="270.4" r="2.7"/><circle class="b" cx="408.5" cy="273.5" r="2.7"/><circle class="b" cx="410.9" cy="271.6" r="2.7"/><circle class="b" cx="412.1" cy="272.3" r="2.7"/><circle class="b" cx="415.0" cy="271.6" r="2.7"/><circle class="b" cx="417.7" cy="273.2" r="2.7"/><circle class="b" cx="420.1" cy="272.6" r="2.7"/><circle class="b" cx="423.2" cy="272.6" r="2.7"/><circle class="b" cx="421.9" cy="275.9" r="2.7"/><circle class="b" cx="424.4" cy="275.7" r="2.7"/><circle class="b" cx="426.2" cy="274.5" r="2.7"/><circle class="b" cx="428.7" cy="275.7" r="2.7"/><circle class="b" cx="430.5" cy="275.3" r="2.7"/><circle class="b" cx="432.4" cy="277.2" r="2.7"/><circle class="b" cx="434.2" cy="276.6" r="2.7"/><circle class="b" cx="436.1" cy="278.1" r="2.7"/><circle class="b" cx="438.5" cy="278.1" r="2.7"/><circle class="b" cx="440.9" cy="279.4" r="2.7"/><circle class="b" cx="442.8" cy="279.0" r="2.7"/><circle class="b" cx="444.6" cy="280.2" r="2.7"/><circle class="b" cx="447.1" cy="280.6" r="2.7"/><circle class="b" cx="449.5" cy="281.8" r="2.7"/><circle class="b" cx="452.6" cy="282.3" r="2.7"/><circle class="b" cx="455.1" cy="283.3" r="2.7"/><circle class="b" cx="457.5" cy="283.9" r="2.7"/><circle class="b" cx="460.6" cy="283.3" r="2.7"/><circle class="b" cx="461.2" cy="285.8" r="2.7"/><circle class="b" cx="464.2" cy="285.8" r="2.7"/><circle class="b" cx="467.3" cy="286.0" r="2.7"/><circle class="b" cx="469.8" cy="287.2" r="2.7"/><circle class="b" cx="472.5" cy="283.9" r="2.7"/><circle class="b" cx="474.7" cy="288.4" r="2.7"/><circle class="b" cx="477.1" cy="289.2" r="2.7"/><circle class="b" cx="480.2" cy="290.0" r="2.7"/><circle class="b" cx="482.6" cy="290.7" r="2.7"/><circle class="b" cx="488.2" cy="292.5" r="2.7"/><circle class="b" cx="490.0" cy="293.7" r="2.7"/><circle class="b" cx="491.9" cy="292.9" r="2.7"/><circle class="b" cx="493.7" cy="294.9" r="2.7"/><circle class="b" cx="495.5" cy="293.7" r="2.7"/><circle class="b" cx="497.4" cy="295.6" r="2.7"/><circle class="b" cx="498.6" cy="294.3" r="2.7"/><circle class="b" cx="499.2" cy="297.4" r="2.7"/><circle class="b" cx="501.0" cy="296.2" r="2.7"/><circle class="b" cx="502.3" cy="298.0" r="2.7"/><circle class="b" cx="504.1" cy="298.6" r="2.7"/><circle class="b" cx="506.6" cy="300.5" r="2.7"/><circle class="b" cx="507.8" cy="301.1" r="2.7"/><circle class="b" cx="510.9" cy="302.9" r="2.7"/><circle class="b" cx="515.8" cy="304.8" r="2.7"/><circle class="b" cx="518.2" cy="307.2" r="2.7"/><circle class="b" cx="520.7" cy="308.4" r="2.7"/><circle class="b" cx="523.1" cy="310.3" r="2.7"/><circle class="b" cx="525.6" cy="310.9" r="2.7"/><circle class="b" cx="526.8" cy="312.7" r="2.7"/><circle class="b" cx="528.6" cy="313.9" r="2.7"/><circle class="b" cx="525.6" cy="314.0" r="2.7"/><circle class="b" cx="528.0" cy="315.0" r="2.7"/><circle class="b" cx="530.5" cy="315.8" r="2.7"/><circle class="b" cx="532.3" cy="317.7" r="2.7"/><circle class="b" cx="534.1" cy="318.9" r="2.7"/><circle class="b" cx="536.6" cy="320.7" r="2.7"/><circle class="b" cx="539.1" cy="322.0" r="2.7"/><circle class="b" cx="540.9" cy="324.4" r="2.7"/><circle class="b" cx="542.5" cy="326.3" r="2.7"/><circle class="b" cx="550.7" cy="336.7" r="2.7"/><circle class="b" cx="553.2" cy="339.1" r="2.7"/><circle class="b" cx="557.7" cy="341.0" r="2.7"/><circle class="b" cx="563.2" cy="346.5" r="2.7"/><circle class="b" cx="588.4" cy="376.0" r="2.7"/><circle class="b" cx="402.3" cy="269.3" r="2.7"/><circle class="b" cx="404.8" cy="269.3" r="2.7"/><circle class="b" cx="406.6" cy="274.1" r="2.7"/><circle class="b" cx="404.2" cy="273.7" r="2.7"/><circle class="b" cx="400.6" cy="271.0" r="2.7"/><circle class="b" cx="409.1" cy="272.3" r="2.7"/><circle class="b" cx="401.7" cy="273.2" r="2.7"/><circle class="b" cx="496.1" cy="292.9" r="2.7"/><circle class="b" cx="494.3" cy="296.3" r="2.7"/><circle class="b" cx="498.0" cy="296.8" r="2.7"/><circle class="b" cx="500.4" cy="297.8" r="2.7"/><circle class="b" cx="490.6" cy="292.1" r="2.7"/><circle class="b" cx="499.8" cy="294.9" r="2.7"/><circle class="b" cx="502.9" cy="296.5" r="2.7"/><circle class="b" cx="504.7" cy="299.9" r="2.7"/><circle class="b" cx="501.7" cy="299.0" r="2.7"/><circle class="b" cx="494.9" cy="296.8" r="2.7"/><circle class="b" cx="491.9" cy="295.6" r="2.7"/><circle class="b" cx="505.9" cy="299.0" r="2.7"/><circle class="b" cx="408.6" cy="274.2" r="2.7"/><circle class="b" cx="406.0" cy="274.0" r="2.7"/><circle class="b" cx="412.3" cy="273.1" r="2.7"/><circle class="b" cx="411.9" cy="271.5" r="2.7"/><circle class="b" cx="415.2" cy="272.4" r="2.7"/><circle class="b" cx="414.8" cy="270.9" r="2.7"/><circle class="b" cx="417.9" cy="274.0" r="2.7"/><circle class="b" cx="417.5" cy="272.4" r="2.7"/><circle class="b" cx="420.3" cy="273.4" r="2.7"/><circle class="b" cx="419.9" cy="271.8" r="2.7"/><circle class="b" cx="423.4" cy="273.4" r="2.7"/><circle class="b" cx="423.0" cy="271.8" r="2.7"/><circle class="b" cx="422.1" cy="276.7" r="2.7"/><circle class="b" cx="421.8" cy="275.1" r="2.7"/><circle class="b" cx="424.6" cy="276.5" r="2.7"/><circle class="b" cx="424.2" cy="274.9" r="2.7"/><circle class="b" cx="426.4" cy="275.3" r="2.7"/><circle class="b" cx="426.0" cy="273.7" r="2.7"/><circle class="b" cx="428.9" cy="276.5" r="2.7"/><circle class="b" cx="428.5" cy="274.9" r="2.7"/><circle class="b" cx="430.7" cy="276.1" r="2.7"/><circle class="b" cx="430.3" cy="274.5" r="2.7"/><circle class="b" cx="432.6" cy="278.0" r="2.7"/><circle class="b" cx="432.2" cy="276.4" r="2.7"/><circle class="b" cx="434.4" cy="277.4" r="2.7"/><circle class="b" cx="434.0" cy="275.8" r="2.7"/><circle class="b" cx="436.2" cy="278.9" r="2.7"/><circle class="b" cx="435.9" cy="277.4" r="2.7"/><circle class="b" cx="438.7" cy="278.9" r="2.7"/><circle class="b" cx="438.3" cy="277.4" r="2.7"/><circle class="b" cx="441.1" cy="280.2" r="2.7"/><circle class="b" cx="440.8" cy="278.6" r="2.7"/><circle class="b" cx="443.0" cy="279.8" r="2.7"/><circle class="b" cx="442.6" cy="278.2" r="2.7"/><circle class="b" cx="444.8" cy="281.0" r="2.7"/><circle class="b" cx="444.4" cy="279.4" r="2.7"/><circle class="b" cx="447.3" cy="281.4" r="2.7"/><circle class="b" cx="446.9" cy="279.8" r="2.7"/><circle class="b" cx="449.7" cy="282.6" r="2.7"/><circle class="b" cx="449.3" cy="281.0" r="2.7"/><circle class="b" cx="452.8" cy="283.1" r="2.7"/><circle class="b" cx="452.4" cy="281.5" r="2.7"/><circle class="b" cx="455.3" cy="284.1" r="2.7"/><circle class="b" cx="454.9" cy="282.5" r="2.7"/><circle class="b" cx="457.7" cy="284.7" r="2.7"/><circle class="b" cx="457.3" cy="283.1" r="2.7"/><circle class="b" cx="460.8" cy="284.1" r="2.7"/><circle class="b" cx="460.4" cy="282.5" r="2.7"/><circle class="b" cx="461.4" cy="286.6" r="2.7"/><circle class="b" cx="461.0" cy="284.9" r="2.7"/><circle class="b" cx="464.4" cy="286.6" r="2.7"/><circle class="b" cx="464.1" cy="284.9" r="2.7"/><circle class="b" cx="467.5" cy="286.8" r="2.7"/><circle class="b" cx="467.1" cy="285.2" r="2.7"/><circle class="b" cx="470.0" cy="288.0" r="2.7"/><circle class="b" cx="469.6" cy="286.4" r="2.7"/><circle class="b" cx="472.7" cy="284.7" r="2.7"/><circle class="b" cx="472.3" cy="283.1" r="2.7"/><circle class="b" cx="474.9" cy="289.2" r="2.7"/><circle class="b" cx="474.5" cy="287.6" r="2.7"/><circle class="b" cx="477.3" cy="290.0" r="2.7"/><circle class="b" cx="476.9" cy="288.4" r="2.7"/><circle class="b" cx="480.4" cy="290.8" r="2.7"/><circle class="b" cx="480.0" cy="289.2" r="2.7"/><circle class="b" cx="482.9" cy="291.5" r="2.7"/><circle class="b" cx="482.4" cy="289.9" r="2.7"/><circle class="o" cx="413.7" cy="272.3" r="2.7"/><circle class="o" cx="416.4" cy="273.9" r="2.7"/><circle class="o" cx="458.5" cy="282.9" r="2.7"/><circle class="o" cx="470.4" cy="288.4" r="2.7"/><circle class="o" cx="513.5" cy="305.1" r="2.7"/><circle class="o" cx="535.0" cy="319.8" r="2.7"/><circle class="o" cx="539.5" cy="324.2" r="2.7"/><circle class="o" cx="548.9" cy="332.4" r="2.7"/><circle class="o" cx="551.3" cy="334.9" r="2.7"/><circle class="o" cx="553.8" cy="336.7" r="2.7"/><circle class="o" cx="555.6" cy="338.5" r="2.7"/><circle class="o" cx="566.9" cy="350.5" r="2.7"/><circle class="o" cx="570.3" cy="354.5" r="2.7"/><circle class="o" cx="572.2" cy="356.9" r="2.7"/><circle class="o" cx="574.6" cy="359.4" r="2.7"/><circle class="o" cx="576.5" cy="361.8" r="2.7"/><circle class="o" cx="578.9" cy="364.3" r="2.7"/><circle class="o" cx="583.2" cy="367.9" r="2.7"/><circle class="o" cx="583.8" cy="369.2" r="2.7"/><circle class="o" cx="585.7" cy="371.7" r="2.7"/><circle class="o" cx="586.9" cy="372.9" r="2.7"/><circle class="o" cx="591.2" cy="379.0" r="2.7"/><circle class="o" cx="592.4" cy="380.9" r="2.7"/><circle class="o" cx="594.2" cy="383.3" r="2.7"/><circle class="o" cx="596.1" cy="386.1" r="2.7"/><circle class="o" cx="600.4" cy="392.2" r="2.7"/><circle class="o" cx="601.6" cy="394.4" r="2.7"/><circle class="o" cx="602.8" cy="396.2" r="2.7"/><circle class="o" cx="604.7" cy="398.7" r="2.7"/><circle class="o" cx="606.5" cy="400.5" r="2.7"/><circle class="o" cx="609.0" cy="402.3" r="2.7"/><circle class="o" cx="611.4" cy="403.8" r="2.7"/><circle class="o" cx="612.6" cy="404.4" r="2.7"/><circle class="o" cx="620.6" cy="401.7" r="2.7"/><circle class="o" cx="620.0" cy="404.2" r="2.7"/><circle class="o" cx="621.2" cy="406.0" r="2.7"/><circle class="o" cx="620.6" cy="408.5" r="2.7"/><circle class="o" cx="620.6" cy="410.9" r="2.7"/><circle class="o" cx="620.6" cy="412.1" r="2.7"/><circle class="o" cx="618.8" cy="407.2" r="2.7"/><circle class="o" cx="622.4" cy="407.2" r="2.7"/><circle class="o" cx="618.1" cy="404.8" r="2.7"/><circle class="o" cx="623.1" cy="404.8" r="2.7"/><circle class="o" cx="618.8" cy="409.7" r="2.7"/><circle class="o" cx="622.7" cy="409.7" r="2.7"/><circle class="o" cx="623.4" cy="406.9" r="2.7"/><circle class="o" cx="623.1" cy="409.3" r="2.7"/><circle class="o" cx="622.4" cy="411.2" r="2.7"/><circle class="o" cx="621.2" cy="412.3" r="2.7"/><circle class="o" cx="620.0" cy="412.3" r="2.7"/><circle class="o" cx="618.9" cy="411.2" r="2.7"/><circle class="o" cx="618.1" cy="409.3" r="2.7"/><circle class="o" cx="617.8" cy="406.9" r="2.7"/><circle class="o" cx="618.1" cy="404.5" r="2.7"/><circle class="o" cx="618.9" cy="402.6" r="2.7"/><circle class="o" cx="620.0" cy="401.5" r="2.7"/><circle class="o" cx="621.2" cy="401.5" r="2.7"/><circle class="o" cx="622.4" cy="402.6" r="2.7"/><circle class="o" cx="623.1" cy="404.5" r="2.7"/><circle class="o" cx="621.9" cy="407.7" r="2.7"/><circle class="o" cx="621.2" cy="409.4" r="2.7"/><circle class="o" cx="620.2" cy="409.6" r="2.7"/><circle class="o" cx="619.4" cy="408.2" r="2.7"/><circle class="o" cx="619.3" cy="406.1" r="2.7"/><circle class="o" cx="620.0" cy="404.4" r="2.7"/><circle class="o" cx="621.0" cy="404.2" r="2.7"/><circle class="o" cx="621.8" cy="405.6" r="2.7"/></g>
<path class="sp" d="M387.0 259.9H637.0"/><path class="sp" d="M387.0 422.0H637.0"/><path class="sp" d="M387.0 259.9V422.0"/><path class="sp" d="M637.0 259.9V422.0"/>
<line class="tm" x1="400.30" y1="422.0" x2="400.30" y2="424.9"/><text class="tk" x="400.30" y="432.6" text-anchor="middle">0.0</text><line class="tm" x1="384.1" y1="412.50" x2="387.0" y2="412.50"/><text class="tk" x="382.1" y="415.40" text-anchor="end">0.0</text>
<line class="tm" x1="444.92" y1="422.0" x2="444.92" y2="424.9"/><text class="tk" x="444.92" y="432.6" text-anchor="middle">0.2</text><line class="tm" x1="384.1" y1="383.86" x2="387.0" y2="383.86"/><text class="tk" x="382.1" y="386.76" text-anchor="end">0.2</text>
<line class="tm" x1="489.54" y1="422.0" x2="489.54" y2="424.9"/><text class="tk" x="489.54" y="432.6" text-anchor="middle">0.4</text><line class="tm" x1="384.1" y1="355.22" x2="387.0" y2="355.22"/><text class="tk" x="382.1" y="358.12" text-anchor="end">0.4</text>
<line class="tm" x1="534.16" y1="422.0" x2="534.16" y2="424.9"/><text class="tk" x="534.16" y="432.6" text-anchor="middle">0.6</text><line class="tm" x1="384.1" y1="326.58" x2="387.0" y2="326.58"/><text class="tk" x="382.1" y="329.48" text-anchor="end">0.6</text>
<line class="tm" x1="578.78" y1="422.0" x2="578.78" y2="424.9"/><text class="tk" x="578.78" y="432.6" text-anchor="middle">0.8</text><line class="tm" x1="384.1" y1="297.94" x2="387.0" y2="297.94"/><text class="tk" x="382.1" y="300.84" text-anchor="end">0.8</text>
<line class="tm" x1="623.40" y1="422.0" x2="623.40" y2="424.9"/><text class="tk" x="623.40" y="432.6" text-anchor="middle">1.0</text><line class="tm" x1="384.1" y1="269.30" x2="387.0" y2="269.30"/><text class="tk" x="382.1" y="272.20" text-anchor="end">1.0</text>
<text class="tt" x="511.9" y="255.2" text-anchor="middle">2-D Visualization of CNN Representations</text>
<rect x="601.6" y="263.5" width="31.7" height="23.9" rx="1.4" ry="1.4" fill="#fff" fill-opacity="0.8" stroke="#ccc" stroke-opacity="0.9" stroke-width="0.75"/><circle class="b" cx="612.0" cy="270.1" r="2.7"/><text class="tk" x="625.7" y="272.1">0</text><circle class="o" cx="612.0" cy="281.2" r="2.7"/><text class="tk" x="625.7" y="283.3">1</text>
<text class="cl" transform="translate(367.8,470.4) scale(0.92,1)">(d)</text><text class="ct" transform="translate(390.5,470.4) scale(1.009,1)">2-D Projection visualization of CNN deep Features</text>
</g>
</svg>
</body>
</html>
